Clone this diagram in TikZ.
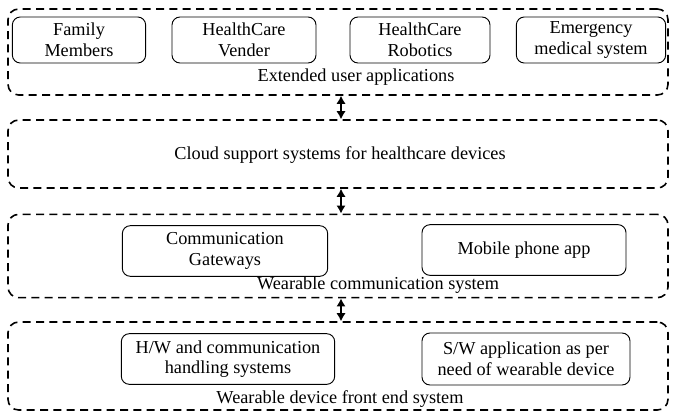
\documentclass[tikz,border=0pt]{standalone}
\usepackage{fontspec}
\setmainfont{Liberation Serif}
\usetikzlibrary{arrows.meta}

\begin{document}
\begin{tikzpicture}[
  x=0.75pt, y=-0.75pt,
  font=\fontsize{13.7}{15.5}\selectfont,
  layer/.style={draw, dashed, dash pattern=on 6pt off 4pt, line width=1.2pt,
    rounded corners=8pt, minimum width=495pt, inner sep=0pt},
  unit/.style={draw, rounded corners=6pt, line width=0.7pt, align=center, inner sep=1pt},
  link/.style={{Latex[length=6pt,width=7pt]}-{Latex[length=6pt,width=7pt]}, line width=1.1pt},
  ]
  \useasboundingbox (0,0) rectangle (673,418);

  % layers
  \node[layer, minimum height=64.5pt] (apps)  at (338,52)  {};
  \node[layer, minimum height=51pt]   (cloud) at (338,154) {};
  \node[layer, minimum height=62.5pt] (comm)  at (338,256) {};
  \node[layer, minimum height=66pt]   (front) at (338,366) {};

  % extended user applications
  \node[unit, minimum width=100pt, minimum height=34.5pt] (family) at (79,40)  {Family\\Members};
  \node[unit, minimum width=108pt, minimum height=34.5pt] (vender) at (244,40) {HealthCare\\Vender};
  \node[unit, minimum width=105pt, minimum height=34.5pt] (robot)  at (420,40) {HealthCare\\Robotics};
  \node[unit, minimum width=112pt, minimum height=34.5pt] (emerg)  at (591,40) {Emergency\\medical system};
  \node (appslbl) at (356,77) {Extended user applications};

  % cloud
  \node (cloudlbl) at (340,155) {Cloud support systems for healthcare devices};

  % wearable communication
  \node[unit, minimum width=154pt, minimum height=38pt] (gateway) at (225,251) {Communication\\Gateways};
  \node[unit, minimum width=153pt, minimum height=38pt] (mobile)  at (524,250) {Mobile phone app};
  \node (commlbl) at (378,285) {Wearable communication system};

  % front end
  \node[unit, minimum width=160pt, minimum height=38pt] (hw) at (228,359) {H/W and communication\\handling systems};
  \node[unit, minimum width=156pt, minimum height=39pt] (sw) at (526,359) {S/W application as per\\need of wearable device};
  \node (frontlbl) at (340,399) {Wearable device front end system};

  \draw[link] ([xshift=2.25pt]apps.south) -- ([xshift=2.25pt]cloud.north);
  \draw[link] ([xshift=2.25pt]cloud.south) -- ([xshift=2.25pt]comm.north);
  \draw[link] ([xshift=2.25pt]comm.south) -- ([xshift=2.25pt]front.north);
\end{tikzpicture}
\end{document}
